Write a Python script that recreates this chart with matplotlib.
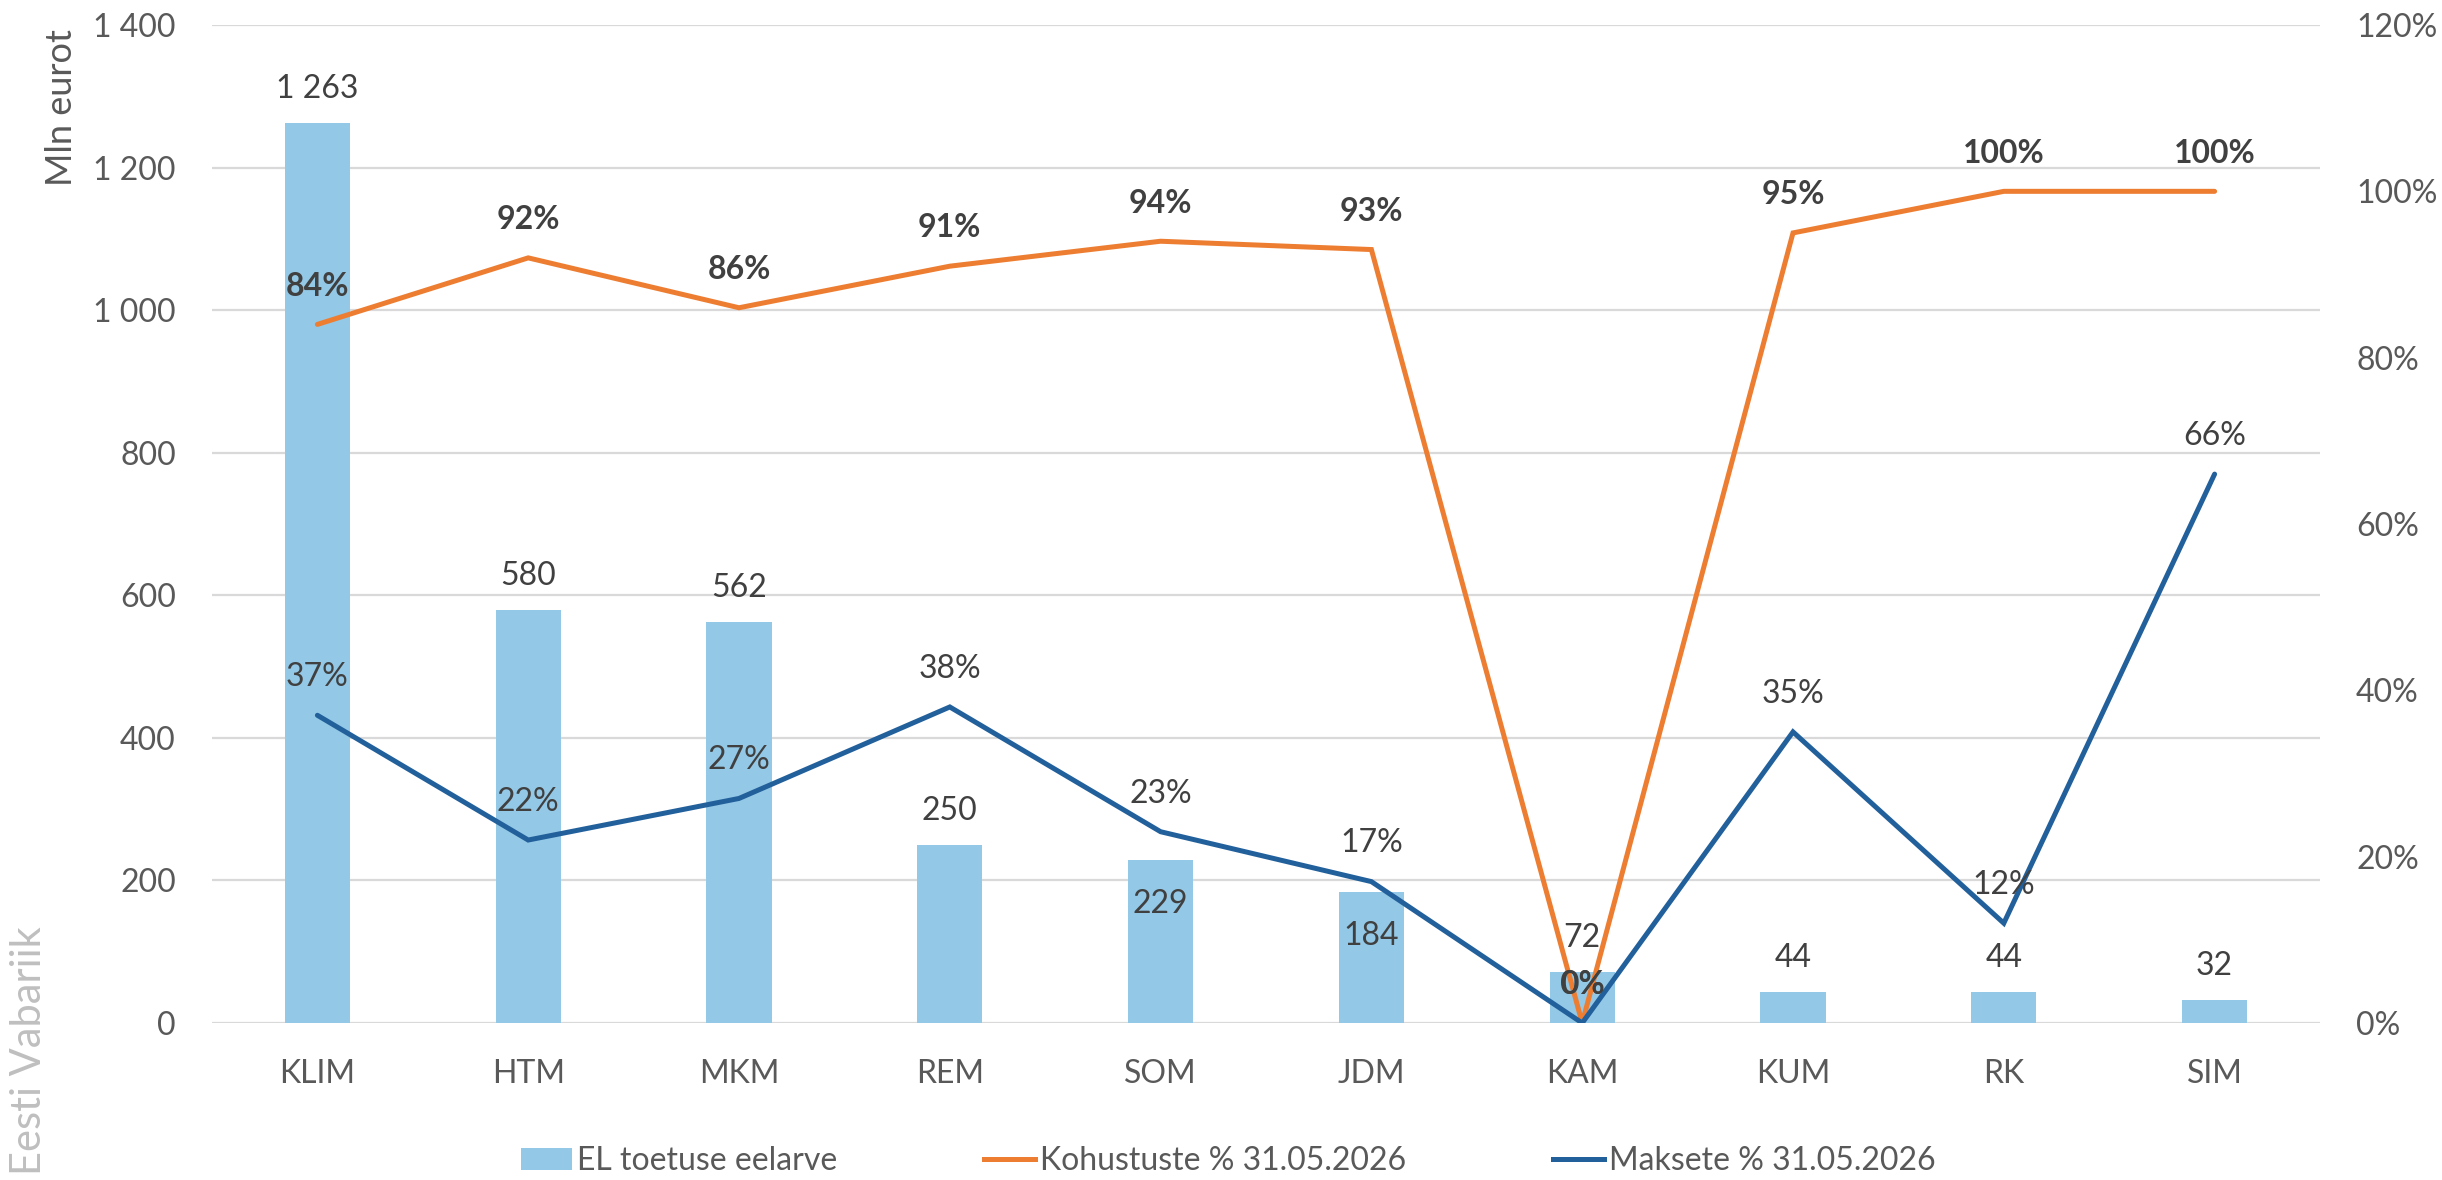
import matplotlib
matplotlib.use("Agg")
import matplotlib.pyplot as plt
from matplotlib.ticker import FuncFormatter, MultipleLocator
from matplotlib.patches import Patch
from matplotlib.lines import Line2D

# -----------------------
# Data
# -----------------------
ministries = ["KLIM", "HTM", "MKM", "REM", "SOM", "JDM", "KAM", "KUM", "RK", "SIM"]
budget = [1263, 580, 562, 250, 229, 184, 72, 44, 44, 32]          # Mln eurot
commit_pct = [84, 92, 86, 91, 94, 93, 0, 95, 100, 100]             # Kohustuste %
pay_pct = [37, 22, 27, 38, 23, 17, 0, 35, 12, 66]                  # Maksete %
# where the budget label goes: above the bar or inside it
budget_label_pos = ["out", "out", "out", "out", "in", "in", "out", "out", "out", "out"]

# -----------------------
# Styles
# -----------------------
bar_color = "#93c8e6"
orange = "#ed7d31"
blue = "#22609c"
grid_color = "#d9d9d9"
tick_color = "#595959"
label_color = "#404040"
fs = 23

plt.rcParams["font.family"] = ["Lato", "DejaVu Sans"]

fig = plt.figure(figsize=(24.42, 11.8), dpi=100)
ax = fig.add_axes([212 / 2442, 1 - 1023 / 1180, 2108 / 2442, 998 / 1180])
ax2 = ax.twinx()

x = list(range(len(ministries)))

# bars on the left axis
ax.bar(x, budget, width=0.31, color=bar_color, zorder=2)
ax.set_ylim(0, 1400)
ax.set_xlim(-0.5, len(ministries) - 0.5)
ax.yaxis.set_major_locator(MultipleLocator(200))
ax.yaxis.set_major_formatter(FuncFormatter(lambda v, p: f"{int(v):,}".replace(",", " ")))
ax.grid(axis="y", color=grid_color, linewidth=1.6, zorder=0)
ax.set_axisbelow(True)
ax.set_xticks(x)
ax.set_xticklabels(ministries)
ax.tick_params(axis="both", length=0, labelsize=fs, colors=tick_color)
ax.tick_params(axis="y", pad=26)
ax.tick_params(axis="x", pad=26)
for s in ax.spines.values():
    s.set_visible(False)

# lines on the right axis
ax2.plot(x, [v / 100 for v in commit_pct], color=orange, lw=3.6,
         solid_joinstyle="miter", solid_capstyle="round", zorder=3)
ax2.plot(x, [v / 100 for v in pay_pct], color=blue, lw=3.6,
         solid_joinstyle="miter", solid_capstyle="round", zorder=3)
ax2.set_ylim(0, 1.2)
ax2.yaxis.set_major_locator(MultipleLocator(0.2))
ax2.yaxis.set_major_formatter(FuncFormatter(lambda v, p: f"{v * 100:.0f}%"))
ax2.tick_params(axis="y", length=0, labelsize=fs, colors=tick_color, pad=26)
for s in ax2.spines.values():
    s.set_visible(False)

# -----------------------
# Data labels
# -----------------------
for i, v in enumerate(budget):
    txt = f"{v:,}".replace(",", " ")
    dy = 24.5 if budget_label_pos[i] == "out" else -32
    ax.annotate(txt, (i, v), xytext=(0, dy), textcoords="offset points",
                ha="center", va="center", fontsize=fs, color=label_color, zorder=5)

for i, v in enumerate(pay_pct):
    ax2.annotate(f"{v}%", (i, v / 100), xytext=(0, 27.5), textcoords="offset points",
                 ha="center", va="center", fontsize=fs, color=label_color, zorder=5)

for i, v in enumerate(commit_pct):
    ax2.annotate(f"{v}%", (i, v / 100), xytext=(0, 27.5), textcoords="offset points",
                 ha="center", va="center", fontsize=fs, color=label_color,
                 fontweight="bold", zorder=6)

# -----------------------
# Axis title, watermark, legend
# -----------------------
fig.text(62 / 2442, 1 - 108 / 1180, "Mln eurot", rotation=90, ha="center", va="center",
         fontsize=26, color=tick_color)
fig.text(29 / 2442, 1 - 1051 / 1180, "Eesti Vabariik", rotation=90, ha="center", va="center",
         fontsize=30, color="#bfbfbf")

handles = [
    Patch(facecolor=bar_color, edgecolor="none"),
    Line2D([0], [0], color=orange, lw=3.6),
    Line2D([0], [0], color=blue, lw=3.6),
]
labels = ["EL toetuse eelarve", "Kohustuste % 31.05.2026", "Maksete % 31.05.2026"]
leg = fig.legend(handles, labels, loc="center", bbox_to_anchor=(0.503, 0.016), ncol=3,
                 frameon=False, fontsize=fs, handlelength=1.6, handleheight=0.72,
                 handletextpad=0.15, columnspacing=4.6)
for t in leg.get_texts():
    t.set_color(tick_color)

fig.savefig("out.png", dpi=100)
